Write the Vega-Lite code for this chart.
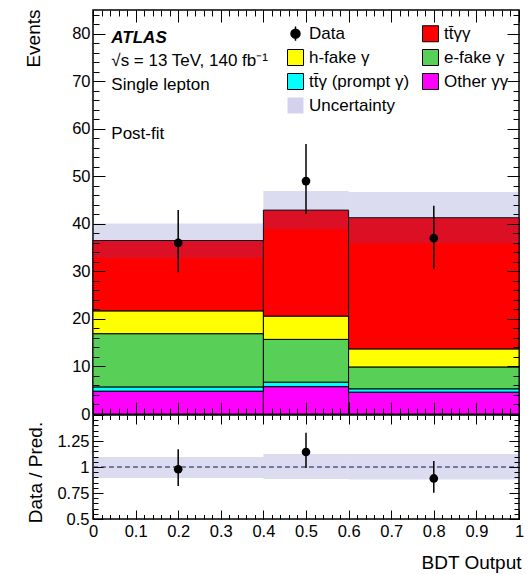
{
  "$schema": "https://vega.github.io/schema/vega-lite/v6.json",
  "padding": {"left": 23, "top": 8, "right": 5, "bottom": 2},
  "spacing": 1,
  "bounds": "flush",
  "datasets": {
    "stack": [
      {"x0": 0, "x1": 0.4, "proc": "Other γγ", "lo": 0, "hi": 4.8},
      {"x0": 0, "x1": 0.4, "proc": "tt̄γ (prompt γ)", "lo": 4.8, "hi": 5.7},
      {"x0": 0, "x1": 0.4, "proc": "e-fake γ", "lo": 5.7, "hi": 16.9},
      {"x0": 0, "x1": 0.4, "proc": "h-fake γ", "lo": 16.9, "hi": 21.7},
      {"x0": 0, "x1": 0.4, "proc": "tt̄γγ", "lo": 21.7, "hi": 36.5},
      {"x0": 0.4, "x1": 0.6, "proc": "Other γγ", "lo": 0, "hi": 5.75},
      {"x0": 0.4, "x1": 0.6, "proc": "tt̄γ (prompt γ)", "lo": 5.75, "hi": 6.7},
      {"x0": 0.4, "x1": 0.6, "proc": "e-fake γ", "lo": 6.7, "hi": 15.7},
      {"x0": 0.4, "x1": 0.6, "proc": "h-fake γ", "lo": 15.7, "hi": 20.6},
      {"x0": 0.4, "x1": 0.6, "proc": "tt̄γγ", "lo": 20.6, "hi": 42.9},
      {"x0": 0.6, "x1": 1.0, "proc": "Other γγ", "lo": 0, "hi": 4.6},
      {"x0": 0.6, "x1": 1.0, "proc": "tt̄γ (prompt γ)", "lo": 4.6, "hi": 5.3},
      {"x0": 0.6, "x1": 1.0, "proc": "e-fake γ", "lo": 5.3, "hi": 9.9},
      {"x0": 0.6, "x1": 1.0, "proc": "h-fake γ", "lo": 9.9, "hi": 13.7},
      {"x0": 0.6, "x1": 1.0, "proc": "tt̄γγ", "lo": 13.7, "hi": 41.3}
    ],
    "unc": [
      {"x0": 0, "x1": 0.4, "lo": 32.9, "hi": 40.1},
      {"x0": 0.4, "x1": 0.6, "lo": 38.9, "hi": 46.9},
      {"x0": 0.6, "x1": 1.0, "lo": 35.9, "hi": 46.7}
    ],
    "obs": [
      {"x": 0.2, "y": 36, "lo": 29.8, "hi": 42.9},
      {"x": 0.5, "y": 49, "lo": 42.1, "hi": 56.8},
      {"x": 0.8, "y": 37, "lo": 30.5, "hi": 43.8}
    ],
    "ratio": [
      {"x": 0.2, "r": 0.978, "lo": 0.817, "hi": 1.17},
      {"x": 0.5, "r": 1.144, "lo": 0.99, "hi": 1.33},
      {"x": 0.8, "r": 0.89, "lo": 0.753, "hi": 1.058}
    ],
    "runc": [
      {"x0": 0, "x1": 0.4, "lo": 0.895, "hi": 1.095},
      {"x0": 0.4, "x1": 0.6, "lo": 0.885, "hi": 1.125},
      {"x0": 0.6, "x1": 1.0, "lo": 0.88, "hi": 1.125}
    ]
  },
  "config": {
    "font": "Liberation Sans",
    "concat": {"spacing": 1},
    "view": {"stroke": "black", "strokeWidth": 1.5, "fill": null},
    "axis": {
      "domain": false, "ticks": false,
      "labelColor": "black", "titleColor": "black", "labelFontSize": 16.5,
      "titleFontSize": 19, "titleFontWeight": "normal", "labelOverlap": false,
      "labelFlush": false, "labelFont": "Liberation Sans", "titleFont": "Liberation Sans",
      "minExtent": 0
    }
  },
  "resolve": {"scale": {"x": "independent", "y": "independent"}},
  "vconcat": [
    {
      "width": 426,
      "height": 404,
      "layer": [
        {
          "data": {"name": "stack"},
          "mark": {"type": "rect", "stroke": "black", "strokeWidth": 1},
          "encoding": {
            "x": {"field": "x0", "type": "quantitative",
              "scale": {"domain": [0, 1], "nice": false, "zero": false},
              "axis": {"orient": "bottom", "labels": false, "title": null, "zindex": 1,
                "grid": true, "gridColor": "black", "gridOpacity": 1, "gridWidth": 1, "gridDash": [12, 380, 12, 1000],
                "values": [0,0.1,0.2,0.3,0.4,0.5,0.6,0.7,0.8,0.9,1]}},
            "x2": {"field": "x1"},
            "y": {"field": "lo", "type": "quantitative",
              "scale": {"domain": [0, 85], "nice": false, "zero": false},
              "axis": {"orient": "left", "labelPadding": 3, "zindex": 1,
                "grid": true, "gridColor": "black", "gridOpacity": 1, "gridWidth": 1, "gridDash": [12, 402, 12, 1000],
                "values": [0,10,20,30,40,50,60,70,80],
                "title": "Events", "titleX": -69, "titleY": -1, "titleAlign": "right", "titleBaseline": "top", "titleAngle": 270}},
            "y2": {"field": "hi"},
            "color": {"field": "proc", "type": "nominal",
              "scale": {"domain": ["Data", "h-fake γ", "tt̄γ (prompt γ)", "Uncertainty", "tt̄γγ", "e-fake γ", "Other γγ"],
                        "range": ["black", "#ffff00", "#00ffff", "#d2d2ee", "#ff0000", "#58d058", "#ff00ff"]},
              "legend": {
                "orient": "none", "legendX": 194, "legendY": 15, "columns": 2, "title": null,
                "symbolSize": 256, "symbolType": "square", "symbolStrokeColor": "black", "symbolStrokeWidth": 1,
                "labelFontSize": 17, "labelFont": "Liberation Sans", "labelColor": "black",
                "labelOffset": 5, "columnPadding": 10, "rowPadding": 3, "labelLimit": 300,
                "encode": {"symbols": {"update": {
                  "shape": {"signal": "datum.value === 'Data' ? 'M0,-0.9V0.9M-0.56,0A0.56,0.56,0,1,0,0.56,0A0.56,0.56,0,1,0,-0.56,0Z' : 'square'"},
                  "stroke": {"signal": "datum.value === 'Uncertainty' ? 'transparent' : 'black'"},
                  "strokeWidth": {"signal": "datum.value === 'Data' ? 1.5 : 1"},
                  "opacity": {"value": 1}
                }}}
              }}
          }
        },
        {
          "data": {"name": "unc"},
          "mark": {"type": "rect", "fill": "#5050b4", "fillOpacity": 0.2},
          "encoding": {
            "x": {"field": "x0", "type": "quantitative",
              "axis": {"orient": "bottom", "labels": false, "title": null, "zindex": 1,
                "grid": true, "gridColor": "black", "gridOpacity": 1, "gridWidth": 1, "gridDash": [6, 392, 6, 1000],
                "values": [0,0.02,0.04,0.06,0.08,0.1,0.12,0.14,0.16,0.18,0.2,0.22,0.24,0.26,0.28,0.3,0.32,0.34,0.36,0.38,0.4,0.42,0.44,0.46,0.48,0.5,0.52,0.54,0.56,0.58,0.6,0.62,0.64,0.66,0.68,0.7,0.72,0.74,0.76,0.78,0.8,0.82,0.84,0.86,0.88,0.9,0.92,0.94,0.96,0.98,1]}},
            "x2": {"field": "x1"},
            "y": {"field": "lo", "type": "quantitative",
              "axis": {"orient": "left", "labels": false, "title": null, "zindex": 1,
                "grid": true, "gridColor": "black", "gridOpacity": 1, "gridWidth": 1, "gridDash": [6, 414, 6, 1000],
                "values": [0,2,4,6,8,10,12,14,16,18,20,22,24,26,28,30,32,34,36,38,40,42,44,46,48,50,52,54,56,58,60,62,64,66,68,70,72,74,76,78,80,82,84]}},
            "y2": {"field": "hi"}
          }
        },
        {
          "data": {"name": "obs"},
          "mark": {"type": "rule", "color": "black", "strokeWidth": 1.5},
          "encoding": {
            "x": {"field": "x", "type": "quantitative", "axis": null},
            "y": {"field": "lo", "type": "quantitative", "axis": null},
            "y2": {"field": "hi"}
          }
        },
        {
          "data": {"name": "obs"},
          "mark": {"type": "point", "filled": true, "color": "black", "size": 75, "opacity": 1},
          "encoding": {
            "x": {"field": "x", "type": "quantitative", "axis": null},
            "y": {"field": "y", "type": "quantitative", "axis": null}
          }
        },
        {
          "data": {"values": [{}]},
          "mark": {"type": "text", "align": "left", "baseline": "alphabetic", "fontSize": 17, "fontWeight": "bold", "fontStyle": "italic", "color": "black"},
          "encoding": {
            "x": {"datum": 0.043, "type": "quantitative", "axis": null},
            "y": {"datum": 77.97, "type": "quantitative", "axis": null},
            "text": {"value": "ATLAS"}
          }
        },
        {
          "data": {"values": [{}]},
          "mark": {"type": "text", "align": "left", "baseline": "alphabetic", "fontSize": 17, "color": "black"},
          "encoding": {
            "x": {"datum": 0.043, "type": "quantitative", "axis": null},
            "y": {"datum": 73.25, "type": "quantitative", "axis": null},
            "text": {"value": "√s = 13 TeV, 140 fb⁻¹"}
          }
        },
        {
          "data": {"values": [{}]},
          "mark": {"type": "text", "align": "left", "baseline": "alphabetic", "fontSize": 17, "color": "black"},
          "encoding": {
            "x": {"datum": 0.043, "type": "quantitative", "axis": null},
            "y": {"datum": 68.15, "type": "quantitative", "axis": null},
            "text": {"value": "Single lepton"}
          }
        },
        {
          "data": {"values": [{}]},
          "mark": {"type": "text", "align": "left", "baseline": "alphabetic", "fontSize": 17, "color": "black"},
          "encoding": {
            "x": {"datum": 0.043, "type": "quantitative", "axis": null},
            "y": {"datum": 57.85, "type": "quantitative", "axis": null},
            "text": {"value": "Post-fit"}
          }
        }
      ],
      "resolve": {"axis": {"x": "independent", "y": "independent"}}
    },
    {
      "width": 426,
      "height": 104,
      "layer": [
        {
          "data": {"name": "runc"},
          "mark": {"type": "rect", "fill": "#5050b4", "fillOpacity": 0.2},
          "encoding": {
            "x": {"field": "x0", "type": "quantitative",
              "scale": {"domain": [0, 1], "nice": false, "zero": false},
              "axis": {"orient": "bottom", "labelPadding": 4, "format": "~g", "zindex": 1,
                "grid": true, "gridColor": "black", "gridOpacity": 1, "gridWidth": 1, "gridDash": [9, 86, 9, 1000],
                "values": [0,0.1,0.2,0.3,0.4,0.5,0.6,0.7,0.8,0.9,1],
                "title": "BDT Output", "titleX": 428, "titleY": 49, "titleAlign": "right", "titleBaseline": "alphabetic"}},
            "x2": {"field": "x1"},
            "y": {"field": "lo", "type": "quantitative",
              "scale": {"domain": [0.5, 1.5], "nice": false, "zero": false},
              "axis": {"orient": "left", "labelPadding": 4, "zindex": 1,
                "grid": true, "gridColor": "black", "gridOpacity": 1, "gridWidth": 1, "gridDash": [10, 406, 10, 1000],
                "values": [0.5,0.75,1,1.25,1.5],
                "labelExpr": "datum.value > 1.4 ? '' : format(datum.value, '~g')",
                "title": "Data / Pred.", "titleX": -67, "titleY": 57, "titleAlign": "center", "titleBaseline": "top", "titleAngle": 270}},
            "y2": {"field": "hi"}
          }
        },
        {
          "data": {"values": [{}]},
          "mark": {"type": "rule", "color": "#555588", "strokeDash": [5, 3], "strokeWidth": 1.5},
          "encoding": {
            "x": {"datum": 0, "type": "quantitative",
              "axis": {"orient": "bottom", "labels": false, "title": null, "zindex": 1,
                "grid": true, "gridColor": "black", "gridOpacity": 1, "gridWidth": 1, "gridDash": [4.5, 95, 4.5, 1000],
                "values": [0,0.02,0.04,0.06,0.08,0.1,0.12,0.14,0.16,0.18,0.2,0.22,0.24,0.26,0.28,0.3,0.32,0.34,0.36,0.38,0.4,0.42,0.44,0.46,0.48,0.5,0.52,0.54,0.56,0.58,0.6,0.62,0.64,0.66,0.68,0.7,0.72,0.74,0.76,0.78,0.8,0.82,0.84,0.86,0.88,0.9,0.92,0.94,0.96,0.98,1]}},
            "x2": {"datum": 1},
            "y": {"datum": 1, "type": "quantitative",
              "axis": {"orient": "left", "labels": false, "title": null, "zindex": 1,
                "grid": true, "gridColor": "black", "gridOpacity": 1, "gridWidth": 1, "gridDash": [5, 416, 5, 1000],
                "values": [0.5,0.55,0.6,0.65,0.7,0.75,0.8,0.85,0.9,0.95,1,1.05,1.1,1.15,1.2,1.25,1.3,1.35,1.4,1.45,1.5]}}
          }
        },
        {
          "data": {"name": "ratio"},
          "mark": {"type": "rule", "color": "black", "strokeWidth": 1.5},
          "encoding": {
            "x": {"field": "x", "type": "quantitative", "axis": null},
            "y": {"field": "lo", "type": "quantitative", "axis": null},
            "y2": {"field": "hi"}
          }
        },
        {
          "data": {"name": "ratio"},
          "mark": {"type": "point", "filled": true, "color": "black", "size": 75, "opacity": 1},
          "encoding": {
            "x": {"field": "x", "type": "quantitative", "axis": null},
            "y": {"field": "r", "type": "quantitative", "axis": null}
          }
        }
      ],
      "resolve": {"axis": {"x": "independent", "y": "independent"}}
    }
  ]
}
